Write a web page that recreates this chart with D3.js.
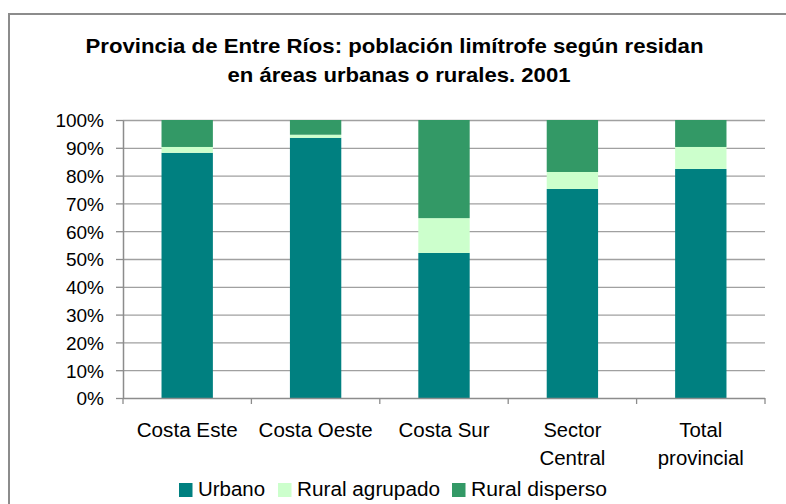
<!DOCTYPE html>
<html><head><meta charset="utf-8">
<script src="https://cdn.jsdelivr.net/npm/d3@7"></script>
<style>body{margin:0;background:#fff}svg{display:block}text{font-family:"Liberation Sans",Arial,sans-serif;fill:#000}</style>
</head><body><svg id="c" width="786" height="504"></svg>
<script>
const categories = ["Costa Este","Costa Oeste","Costa Sur","Sector Central","Total provincial"];
const categoryLines = [["Costa Este"],["Costa Oeste"],["Costa Sur"],["Sector","Central"],["Total","provincial"]];
const seriesNames = ["Urbano","Rural agrupado","Rural disperso"];
const urbano = [88.2, 93.6, 52.2, 75.2, 82.4];
const ruralAgrupado = [2.1, 1.1, 12.5, 6.1, 7.9];
const ruralDisperso = [9.7, 5.3, 35.3, 18.7, 9.7];
const yTicks = [0,10,20,30,40,50,60,70,80,90,100];
const colors = ["#008080","#CCFFCC","#339966"];

const svg = d3.select("#c");
// frame
svg.append("rect").attr("x",9).attr("y",14).attr("width",800).attr("height",520)
  .attr("fill","none").attr("stroke","#8c8c8c").attr("stroke-width",2);

const m = {l:123, r:765, t:120, b:398};
const x = d3.scaleBand().domain(categories).range([m.l,m.r]).paddingInner(0.6).paddingOuter(0.3);
const y = d3.scaleLinear().domain([0,100]).range([m.b,m.t]);

// title
const title = svg.append("text").attr("text-anchor","middle").attr("font-weight","bold").attr("font-size",21);
title.append("tspan").attr("x",394.5).attr("y",53).attr("textLength",618).attr("lengthAdjust","spacingAndGlyphs")
  .text("Provincia de Entre Ríos: población limítrofe según residan");
title.append("tspan").attr("x",399).attr("y",82).attr("textLength",343).attr("lengthAdjust","spacingAndGlyphs")
  .text("en áreas urbanas o rurales. 2001");

// gridlines
svg.append("g").selectAll("line").data(yTicks.filter(d=>d>0)).join("line")
  .attr("x1",m.l).attr("x2",m.r).attr("y1",d=>y(d)+0.5).attr("y2",d=>y(d)+0.5)
  .attr("stroke","#a0a0a0").attr("stroke-width",1.3);

// stacked bars
const rows = categories.map((c,i)=>({cat:c, "Urbano":urbano[i], "Rural agrupado":ruralAgrupado[i], "Rural disperso":ruralDisperso[i]}));
const stack = d3.stack().keys(seriesNames)(rows);
svg.append("g").selectAll("g").data(stack).join("g").attr("fill",(d,i)=>colors[i])
  .selectAll("rect").data(d=>d).join("rect")
  .attr("x",d=>x(d.data.cat)).attr("width",x.bandwidth())
  .attr("y",d=>y(d[1])).attr("height",d=>y(d[0])-y(d[1]));

// y axis
const ya = svg.append("g").attr("transform",`translate(${m.l},0)`)
  .call(d3.axisLeft(y).tickValues(yTicks).tickFormat(d=>d+"%").tickSize(7).tickSizeOuter(0));
ya.select(".domain").attr("stroke","#8c8c8c").attr("stroke-width",1.5);
ya.selectAll(".tick line").attr("stroke","#8c8c8c").attr("stroke-width",1.3);
ya.selectAll(".tick text").attr("font-size",19).attr("font-family","Liberation Sans, Arial, sans-serif").attr("fill","#000").attr("x",-19).attr("dy","0.36em");

// x axis line + boundary ticks
const bounds = categories.map((c,i)=>m.l + i*x.step());
bounds.push(m.r);
svg.append("line").attr("x1",m.l).attr("x2",m.r).attr("y1",m.b+0.5).attr("y2",m.b+0.5).attr("stroke","#8c8c8c").attr("stroke-width",1.5);
svg.append("g").selectAll("line").data(bounds).join("line")
  .attr("x1",d=>d).attr("x2",d=>d).attr("y1",m.b).attr("y2",m.b+6).attr("stroke","#8c8c8c").attr("stroke-width",1.3);

// category labels
const lineWidths = [[101],[114],[91],[58,66],[43,86]];
const cl = svg.append("g").selectAll("text").data(categories).join("text")
  .attr("text-anchor","middle").attr("font-size",19.5);
cl.each(function(c,i){
  const t = d3.select(this);
  categoryLines[i].forEach((ln,j)=>{
    t.append("tspan").attr("x",x(c)+x.bandwidth()/2).attr("y",437+j*27.5)
      .attr("textLength",lineWidths[i][j]).attr("lengthAdjust","spacingAndGlyphs").text(ln);
  });
});

// legend
const legX = [179, 278, 452];
const legW = [67, 143, 136];
const lg = svg.append("g").selectAll("g").data(seriesNames).join("g")
  .attr("transform",(d,i)=>`translate(${legX[i]},483)`);
lg.append("rect").attr("width",13.5).attr("height",14).attr("fill",(d,i)=>colors[i]);
lg.append("text").attr("x",19).attr("y",13).attr("font-size",19.5)
  .attr("textLength",(d,i)=>legW[i]).attr("lengthAdjust","spacingAndGlyphs").text(d=>d);
</script></body></html>
